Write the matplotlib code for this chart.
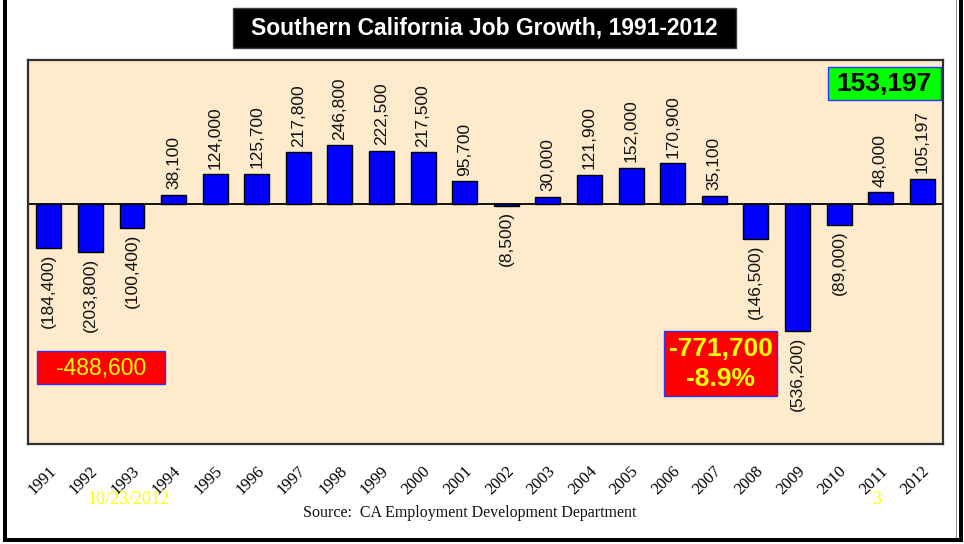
import matplotlib
matplotlib.use("Agg")
import matplotlib.pyplot as plt
from matplotlib.patches import Rectangle
from matplotlib.transforms import ScaledTranslation

years = [str(y) for y in range(1991, 2013)]
jobs = [-184400, -203800, -100400, 38100, 124000, 125700, 217800, 246800,
        222500, 217500, 95700, -8500, 30000, 121900, 152000, 170900,
        35100, -146500, -536200, -89000, 48000, 105197]
title = "Southern California Job Growth, 1991-2012"
source = "Source:  CA Employment Development Department"
date_note = "10/23/2012"
page_no = "3"
recession_pct = "-8.9%"

W, H = 964, 544
fig = plt.figure(figsize=(W / 100, H / 100), dpi=100)
fig.patch.set_facecolor("white")


def fx(px):
    return px / W


def fy(py):
    return 1 - py / H


def fig_box(x0, y0, x1, y1, face, edge, lw=1.0):
    fig.add_artist(Rectangle((fx(x0), fy(y1)), (x1 - x0) / W, (y1 - y0) / H,
                             transform=fig.transFigure, facecolor=face,
                             edgecolor=edge, lw=lw, zorder=5))


# outer frame
fig_box(3, -2, 7, 542, "black", "none")
fig_box(959, -2, 963, 542, "black", "none")
fig_box(955.5, 0, 956.5, 538, "#909090", "none")
fig_box(3, 538, 963, 542, "black", "none")

ax = fig.add_axes([fx(28), fy(444), (943 - 28) / W, (444 - 60) / H])
ax.set_facecolor("#FDEBCC")
x = list(range(len(years)))
ax.bar(x, jobs, width=0.6, color="#0000FF", edgecolor="black", lw=1, zorder=3)
ax.axhline(0, color="black", lw=1.3, zorder=2)
ax.set_xlim(-0.5, len(years) - 0.5)
ax.set_ylim(-1010000, 605000)
ax.set_yticks([])
for s in ax.spines.values():
    s.set_color("#303030")
    s.set_linewidth(1.6)

for xi, v in zip(x, jobs):
    txt = f"{v:,}" if v >= 0 else f"({-v:,})"
    ax.annotate(txt, (xi, v), xytext=(0, 4 if v >= 0 else -4),
                textcoords="offset points", rotation=90, ha="center",
                va="bottom" if v >= 0 else "top", fontsize=12.5,
                family="Liberation Sans", color="#111111")

ax.set_xticks(x, years)
ax.tick_params(axis="x", length=0, pad=18)
for lbl in ax.get_xticklabels():
    lbl.set_rotation(45)
    lbl.set_ha("right")
    lbl.set_va("center")
    lbl.set_rotation_mode("anchor")
    lbl.set_family("Liberation Serif")
    lbl.set_fontsize(12)
    lbl.set_transform(lbl.get_transform() +
                      ScaledTranslation(5 / 100, 0, fig.dpi_scale_trans))

# title plate
fig_box(233, 8, 736, 48, "black", "#404040")
fig.text(fx(484.5), fy(28), title, color="white", fontsize=16.5,
         fontweight="bold", family="Liberation Sans",
         ha="center", va="center", zorder=6)

# period totals
early_total = sum(jobs[0:3])
recession_total = sum(jobs[17:20])
recent_total = sum(jobs[20:22])

fig_box(37, 351, 165, 384, "#FF0000", "#3030FF")
fig.text(fx(101), fy(368), f"{early_total:,}", color="#FFFF00", fontsize=16.5,
         family="Liberation Sans", ha="center", va="center", zorder=6)

fig_box(664, 331, 777, 396, "#FF0000", "#3030FF")
fig.text(fx(720.5), fy(364), f"{recession_total:,}\n{recession_pct}",
         color="#FFFF00", fontsize=19, fontweight="bold",
         family="Liberation Sans", ha="center", va="center",
         linespacing=1.3, zorder=6)

fig_box(828, 67, 941, 100, "#00FF00", "#3030FF")
fig.text(fx(884.5), fy(84), f"{recent_total:,}", color="black", fontsize=19,
         fontweight="bold", family="Liberation Sans",
         ha="center", va="center", zorder=6)

fig.text(fx(470), fy(513), source, fontsize=11.5, family="Liberation Serif",
         ha="center", va="center", color="#111111")
fig.text(fx(128), fy(500), date_note, fontsize=13, family="Liberation Serif",
         ha="center", va="center", color="#FFFF00")
fig.text(fx(877), fy(500), page_no, fontsize=13, family="Liberation Serif",
         ha="center", va="center", color="#FFFF00")

fig.savefig("out.png", dpi=100, facecolor="white")
